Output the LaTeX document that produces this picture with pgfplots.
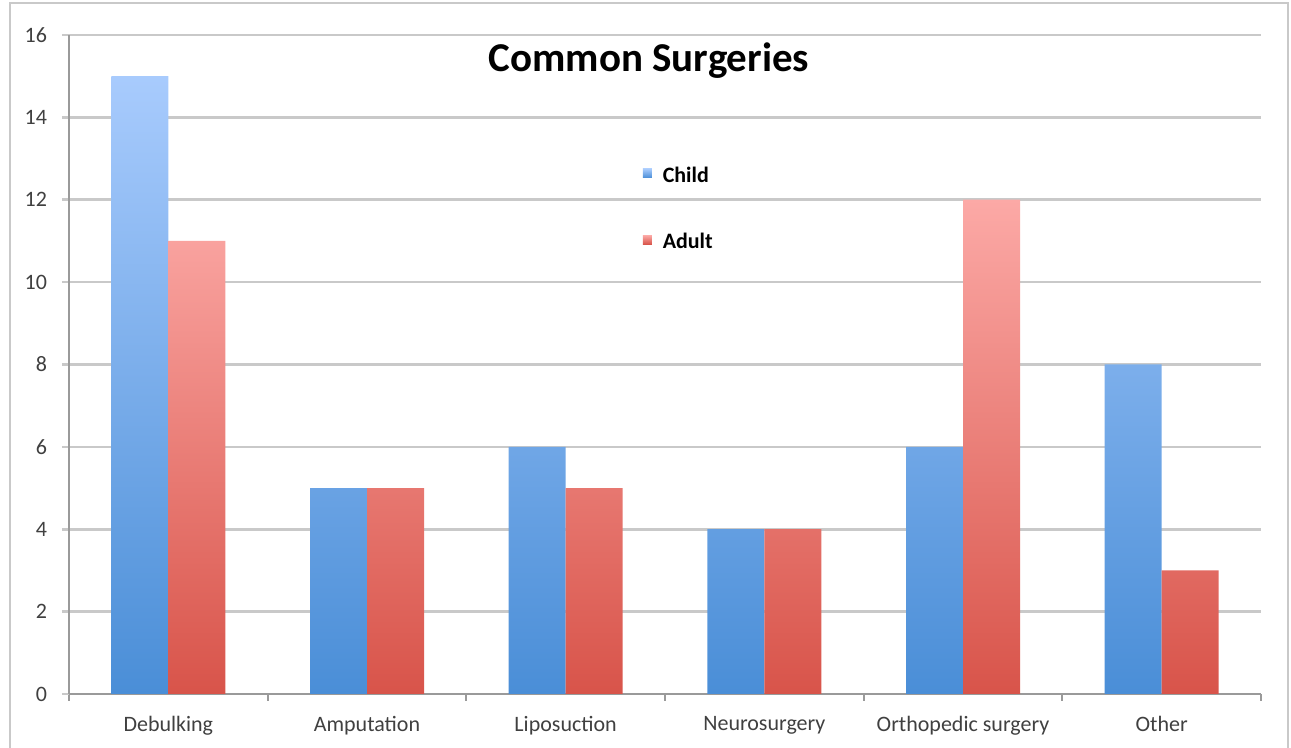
\documentclass[border=0pt]{standalone}
\usepackage{pgfplots}
\pgfplotsset{compat=1.18}
\usepackage{fontspec}
\setmainfont{Carlito}
\definecolor{bluetop}{HTML}{A8CBFD}
\definecolor{bluebot}{HTML}{4A8ED7}
\definecolor{redtop}{HTML}{FCA9A6}
\definecolor{redbot}{HTML}{D8544A}
\definecolor{gridc}{HTML}{C9C9C9}
\definecolor{axc}{HTML}{9A9A9A}
\begin{document}
\begin{tikzpicture}[x=1pt,y=1pt]
\useasboundingbox (-34.5,-27) rectangle (611,347);
\draw[gridc, line width=1.3pt] (-29.5,-40) -- (-29.5,345.5) -- (609.5,345.5) -- (609.5,-40);
\begin{axis}[
  at={(0,0)}, anchor=south west,
  scale only axis,
  width=596pt, height=329.5pt,
  xmin=-0.5, xmax=5.5, ymin=0, ymax=16,
  ybar=0pt, bar width=28.5pt,
  axis line style={axc, line width=1pt},
  axis x line*=bottom, axis y line*=left,
  xtick={0,...,5},
  xticklabels={Debulking, Amputation, Liposuction, Neurosurgery, Orthopedic surgery, Other},
  major x tick style={draw=none},
  minor xtick={-0.5,0.5,...,5.5},
  minor x tick style={axc, line width=1pt},
  minor tick length=3.5pt,
  ytick={0,2,...,16},
  major y tick style={gridc, line width=1.3pt},
  major tick length=3.5pt,
  tick align=outside,
  ymajorgrids, major grid style={gridc, line width=1.3pt},
  /pgf/number format/assume math mode=true,
  ticklabel style={font=\fontsize{11}{13}\selectfont, text=black!75},
  xticklabel style={yshift=-4pt},
  yticklabel style={xshift=-4pt},
  legend style={draw=none, fill=none, at={(rel axis cs:0.481,0.807)}, anchor=north west,
    font=\bfseries\fontsize{11}{13}\selectfont, row sep=20pt, inner sep=0pt},
  legend cell align=left,
  clip=false,
]
\addplot[draw=none, top color=bluetop, bottom color=bluebot, shading=axis, legend image code/.code={\fill[bluebot!80!bluetop] (0pt,-1pt) rectangle (4.5pt,3.5pt); \path (8pt,0pt);}]
  coordinates {(0,15) (1,5) (2,6) (3,4) (4,6) (5,8)};
\addlegendentry{Child}
\addplot[draw=none, top color=redtop, bottom color=redbot, shading=axis, legend image code/.code={\fill[redbot!80!redtop] (0pt,-1pt) rectangle (4.5pt,3.5pt); \path (8pt,0pt);}]
  coordinates {(0,11) (1,5) (2,5) (3,4) (4,12) (5,3)};
\addlegendentry{Adult}
\end{axis}
\node[font=\bfseries\fontsize{20.5}{24}\selectfont] at (290,316.5) {Common Surgeries};
\end{tikzpicture}
\end{document}
